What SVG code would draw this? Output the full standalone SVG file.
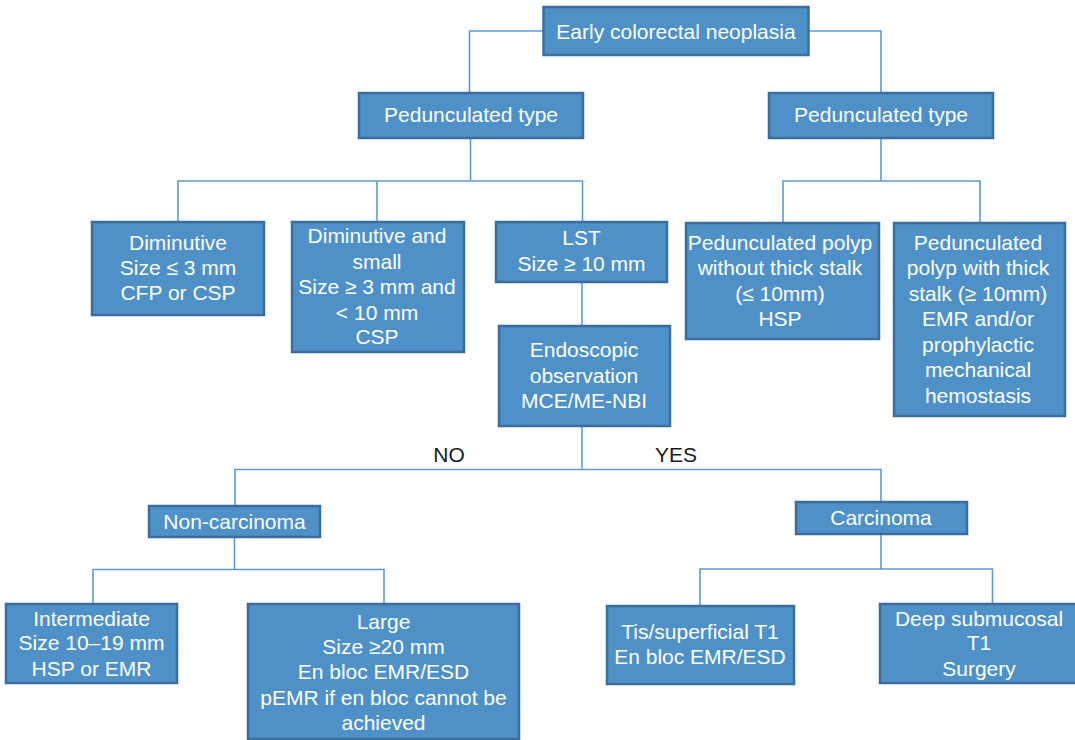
<svg xmlns="http://www.w3.org/2000/svg" width="1075" height="740" viewBox="0 0 1075 740">
<style>
.box{fill:#4e91c9;stroke:#3b6e9d;stroke-width:2.5}
.t{font-family:"Liberation Sans",Arial,sans-serif;font-size:21px;fill:#ffffff;text-anchor:middle}
.lbl{font-family:"Liberation Sans",Arial,sans-serif;font-size:21px;fill:#1a1a1a;text-anchor:middle}
.c{fill:none;stroke:#5b9bd5;stroke-width:1.6}
</style>
<rect width="1075" height="740" fill="#ffffff"/>
<g id="connectors">
<path class="c" d="M543,31 H469.5 V93"/>
<path class="c" d="M809,31 H881 V93"/>
<path class="c" d="M470.5,138 V180.5"/>
<path class="c" d="M178,222 V181 H582.5 V222"/>
<path class="c" d="M377,181 V222"/>
<path class="c" d="M881,138 V181"/>
<path class="c" d="M783,223 V181 H980 V223"/>
<path class="c" d="M582,282 V326"/>
<path class="c" d="M582,426 V468.5"/>
<path class="c" d="M235,506 V469.5 H881 V502"/>
<path class="c" d="M234.5,537 V569.5"/>
<path class="c" d="M93,604 V569.5 H384 V604"/>
<path class="c" d="M881,534 V569"/>
<path class="c" d="M700,606 V569 H992.5 V604"/>
</g>
<g id="n-root"><rect class="box" x="543.5" y="7" width="265" height="48"/><text class="t" x="676" y="38.5">Early colorectal neoplasia</text></g>
<g id="n-ped-left"><rect class="box" x="359" y="93" width="224" height="45"/><text class="t" x="471" y="122">Pedunculated type</text></g>
<g id="n-ped-right"><rect class="box" x="769" y="93" width="224" height="45"/><text class="t" x="881" y="122">Pedunculated type</text></g>
<g id="n-diminutive"><rect class="box" x="92" y="222" width="172" height="93"/><text class="t" x="178" y="250">Diminutive</text><text class="t" x="178" y="275">Size ≤ 3 mm</text><text class="t" x="178" y="300">CFP or CSP</text></g>
<g id="n-dim-small"><rect class="box" x="292" y="222" width="172" height="130"/><text class="t" x="377" y="243">Diminutive and</text><text class="t" x="377" y="268.5">small</text><text class="t" x="377" y="294">Size ≥ 3 mm and</text><text class="t" x="377" y="319.5">&lt; 10 mm</text><text class="t" x="377" y="344">CSP</text></g>
<g id="n-lst"><rect class="box" x="496" y="222" width="171" height="60"/><text class="t" x="581.5" y="245">LST</text><text class="t" x="581.5" y="271">Size ≥ 10 mm</text></g>
<g id="n-endoscopic"><rect class="box" x="499" y="326" width="171" height="100"/><text class="t" x="584" y="357">Endoscopic</text><text class="t" x="584" y="383">observation</text><text class="t" x="584" y="408">MCE/ME-NBI</text></g>
<g id="n-ped-without"><rect class="box" x="686" y="223" width="193" height="116"/><text class="t" x="780" y="250">Pedunculated polyp</text><text class="t" x="780" y="275">without thick stalk</text><text class="t" x="780" y="301">(≤ 10mm)</text><text class="t" x="780" y="326">HSP</text></g>
<g id="n-ped-with"><rect class="box" x="894" y="223" width="171" height="193"/><text class="t" x="978" y="250">Pedunculated</text><text class="t" x="978" y="275">polyp with thick</text><text class="t" x="978" y="301">stalk (≥ 10mm)</text><text class="t" x="978" y="326">EMR and/or</text><text class="t" x="978" y="352">prophylactic</text><text class="t" x="978" y="377">mechanical</text><text class="t" x="978" y="403">hemostasis</text></g>
<g id="labels"><text class="lbl" x="449" y="461.5">NO</text><text class="lbl" x="676" y="461.5">YES</text></g>
<g id="n-noncarcinoma"><rect class="box" x="149" y="506" width="171" height="31"/><text class="t" x="234.5" y="528.5">Non-carcinoma</text></g>
<g id="n-carcinoma"><rect class="box" x="796" y="502" width="171" height="32"/><text class="t" x="881" y="524.5">Carcinoma</text></g>
<g id="n-intermediate"><rect class="box" x="6" y="604" width="171" height="79"/><text class="t" x="91.5" y="625.5">Intermediate</text><text class="t" x="91.5" y="650">Size 10–19 mm</text><text class="t" x="91.5" y="675.5">HSP or EMR</text></g>
<g id="n-large"><rect class="box" x="248" y="604" width="271" height="135"/><text class="t" x="383.5" y="629">Large</text><text class="t" x="383.5" y="653.5">Size ≥20 mm</text><text class="t" x="383.5" y="679">En bloc EMR/ESD</text><text class="t" x="383.5" y="705">pEMR if en bloc cannot be</text><text class="t" x="383.5" y="730">achieved</text></g>
<g id="n-tis"><rect class="box" x="607" y="606" width="187" height="78"/><text class="t" x="700" y="639">Tis/superficial T1</text><text class="t" x="700" y="664">En bloc EMR/ESD</text></g>
<g id="n-deep"><rect class="box" x="880" y="604" width="200" height="79"/><text class="t" x="979" y="625.5">Deep submucosal</text><text class="t" x="979" y="650">T1</text><text class="t" x="979" y="675.5">Surgery</text></g>
</svg>
